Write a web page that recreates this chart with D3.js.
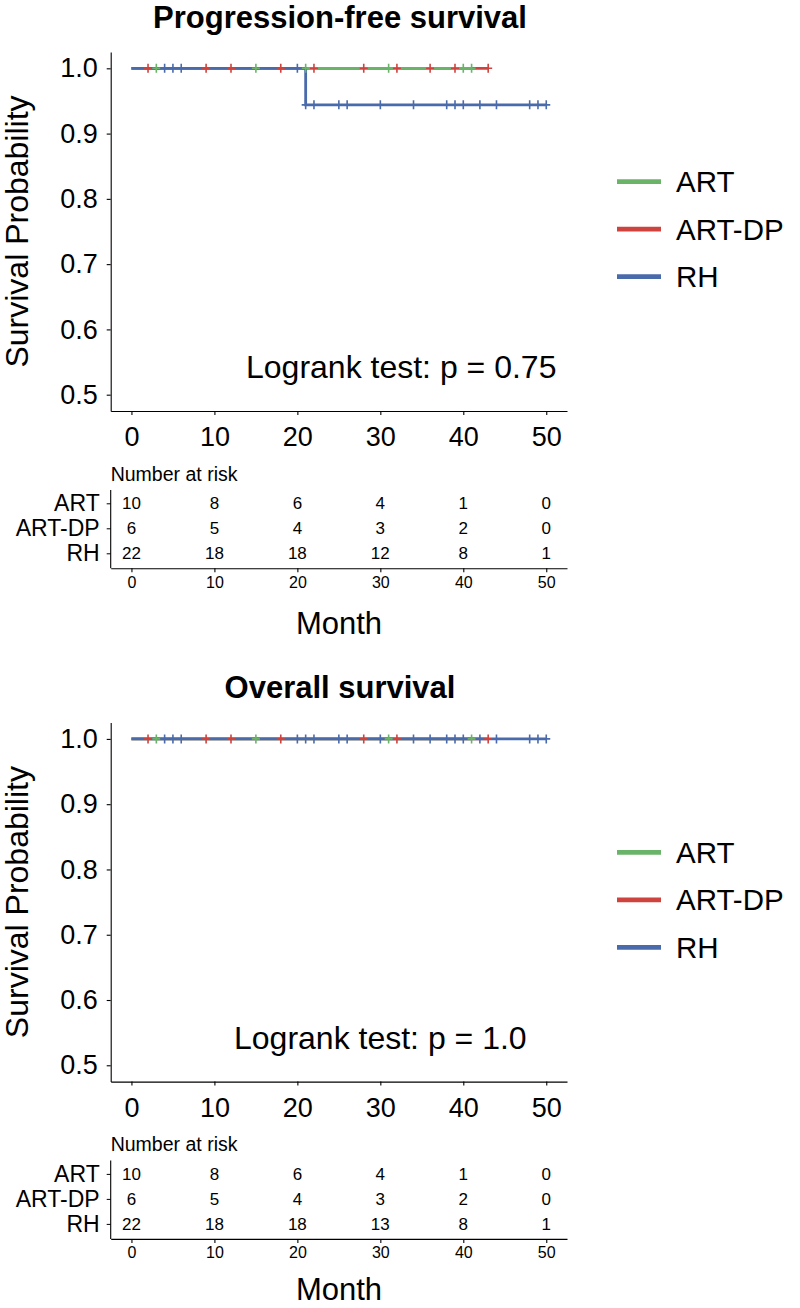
<!DOCTYPE html>
<html><head><meta charset="utf-8">
<script src="https://cdn.jsdelivr.net/npm/d3@7"></script>
<style>body{margin:0;background:#fff}svg{display:block}text{font-family:"Liberation Sans",Arial,sans-serif}</style>
</head><body><svg id="c" width="800" height="1308"></svg>
<script>
// ---------------- data ----------------
const groups = ["ART", "ART-DP", "RH"];
const colors = ["#6AB46A", "#CF433E", "#4A6BAB"];
const xTicks = [0, 10, 20, 30, 40, 50];
const yTicks = [0.5, 0.6, 0.7, 0.8, 0.9, 1.0];
const titles = ["Progression-free survival", "Overall survival"];
const pvalTexts = ["Logrank test: p = 0.75", "Logrank test: p = 1.0"];

// PFS: step times / survival, censor times
const pfsART_steps = [[0, 1], [41, 1]];
const pfsART_cens = [3, 15, 21, 31, 40, 41];
const pfsARTDP_steps = [[0, 1], [43, 1]];
const pfsARTDP_cens = [2, 9, 12, 18, 22, 28, 32, 36, 39, 43];
const pfsRH_steps = [[0, 1], [21, 0.944], [50, 0.944]];
const pfsRH_cens = [4, 5, 6, 20, 21, 22, 25, 26, 30, 34, 38, 39, 40, 42, 44, 48, 49, 50];
const pfsRisk_ART = [10, 8, 6, 4, 1, 0];
const pfsRisk_ARTDP = [6, 5, 4, 3, 2, 0];
const pfsRisk_RH = [22, 18, 18, 12, 8, 1];

// OS
const osART_steps = [[0, 1], [41, 1]];
const osART_cens = [3, 15, 31, 41];
const osARTDP_steps = [[0, 1], [43, 1]];
const osARTDP_cens = [2, 9, 12, 18, 28, 32, 43];
const osRH_steps = [[0, 1], [50, 1]];
const osRH_cens = [4, 5, 6, 20, 21, 22, 25, 26, 30, 34, 36, 38, 39, 40, 42, 44, 48, 49, 50];
const osRisk_ART = [10, 8, 6, 4, 1, 0];
const osRisk_ARTDP = [6, 5, 4, 3, 2, 0];
const osRisk_RH = [22, 18, 18, 13, 8, 1];

const panels = [
  {steps: [pfsART_steps, pfsARTDP_steps, pfsRH_steps], cens: [pfsART_cens, pfsARTDP_cens, pfsRH_cens],
   risk: [pfsRisk_ART, pfsRisk_ARTDP, pfsRisk_RH], pvalX: 246, monthY: 634},
  {steps: [osART_steps, osARTDP_steps, osRH_steps], cens: [osART_cens, osARTDP_cens, osRH_cens],
   risk: [osRisk_ART, osRisk_ARTDP, osRisk_RH], pvalX: 234, monthY: 629.5}
];

// ---------------- drawing ----------------
const svg = d3.select("#c");
const X0 = 110.7, X1 = 567, PANEL_DY = 670.6;
const FONT = '"Liberation Sans",Arial,sans-serif';
const x = d3.scaleLinear().domain([-2.5, 52.5]).range([X0, X1]);

function survAt(steps, t) {
  let s = steps[0][1];
  for (const p of steps) if (p[0] <= t) s = p[1];
  return s;
}

panels.forEach((P, pi) => {
  const oy = pi * PANEL_DY;
  const g = svg.append("g");
  const y = d3.scaleLinear().domain([0.475, 1.025]).range([411 + oy, 52 + oy]);

  // title
  g.append("text").attr("x", 340).attr("y", 27.5 + oy).attr("text-anchor", "middle")
    .attr("font-size", 31).attr("font-weight", "bold").text(titles[pi]);

  // axes
  const ya = g.append("g").attr("transform", `translate(${X0},0)`)
    .call(d3.axisLeft(y).tickValues(yTicks).tickFormat(d3.format(".1f")).tickSize(4).tickSizeOuter(0).tickPadding(9));
  const xa = g.append("g").attr("transform", `translate(0,${411 + oy})`)
    .call(d3.axisBottom(x).tickValues(xTicks).tickSize(4).tickSizeOuter(0).tickPadding(12));
  [ya, xa].forEach(a => {
    a.selectAll("path,line").attr("stroke", "#000").attr("stroke-width", 1.1);
    a.selectAll("text").attr("font-size", 27).attr("fill", "#000").attr("font-family", FONT);
  });

  // y label
  g.append("text").attr("transform", `translate(28,${231.5 + oy}) rotate(-90)`)
    .attr("text-anchor", "middle").attr("font-size", 32).text("Survival Probability");

  // curves (draw red, green, blue so blue on top)
  const line = d3.line().x(d => x(d[0])).y(d => y(d[1])).curve(d3.curveStepAfter);
  [1, 0, 2].forEach(k => {
    g.append("path").attr("d", line(P.steps[k])).attr("fill", "none")
      .attr("stroke", colors[k]).attr("stroke-width", 2.8);
  });
  [1, 0, 2].forEach(k => {
    g.append("g").selectAll("path").data(P.cens[k]).join("path")
      .attr("d", t => {
        const cx = x(t), cy = y(survAt(P.steps[k], t));
        return `M${cx},${cy - 4.5}V${cy + 4.5}M${cx - 4},${cy}H${cx + 4}`;
      })
      .attr("stroke", colors[k]).attr("stroke-width", 1.6).attr("fill", "none");
  });

  // p-value text
  g.append("text").attr("x", P.pvalX).attr("y", 378 + oy).attr("font-size", 32).text(pvalTexts[pi]);

  // legend
  const lg = g.append("g");
  groups.forEach((name, k) => {
    const ly = 181.7 + k * 47.5 + oy;
    lg.append("line").attr("x1", 617).attr("x2", 661).attr("y1", ly).attr("y2", ly)
      .attr("stroke", colors[k]).attr("stroke-width", 4.8);
    lg.append("text").attr("x", 676).attr("y", ly).attr("dy", "0.36em").attr("font-size", 29.5).text(name);
  });

  // risk table
  g.append("text").attr("x", X0).attr("y", 480.7 + oy).attr("font-size", 19.5).text("Number at risk");
  const ty = d3.scalePoint().domain(groups).range([503.3 + oy, 553.3 + oy]);
  const tya = g.append("g").attr("transform", `translate(${X0},0)`)
    .call(d3.axisLeft(ty).tickSize(4).tickSizeOuter(0).tickPadding(7));
  tya.select(".domain").remove();
  g.append("line").attr("x1", X0).attr("x2", X0).attr("y1", 490 + oy).attr("y2", 568.3 + oy).attr("stroke", "#000").attr("stroke-width", 1.1);
  const txa = g.append("g").attr("transform", `translate(0,${568.3 + oy})`)
    .call(d3.axisBottom(x).tickValues(xTicks).tickSize(4).tickSizeOuter(0).tickPadding(4));
  tya.selectAll("line").attr("stroke", "#000");
  tya.selectAll("text").attr("font-size", 23).attr("fill", "#000").attr("font-family", FONT);
  txa.selectAll("path,line").attr("stroke", "#000").attr("stroke-width", 1.1);
  txa.selectAll("text").attr("font-size", 16).attr("fill", "#000").attr("font-family", FONT);
  groups.forEach((name, k) => {
    g.append("g").selectAll("text").data(P.risk[k]).join("text")
      .attr("x", (d, i) => x(xTicks[i])).attr("y", ty(name)).attr("dy", "0.36em")
      .attr("text-anchor", "middle").attr("font-size", 17).text(d => d);
  });

  g.append("text").attr("x", 339).attr("y", P.monthY + oy).attr("text-anchor", "middle")
    .attr("font-size", 31).text("Month");
});
</script></body></html>
